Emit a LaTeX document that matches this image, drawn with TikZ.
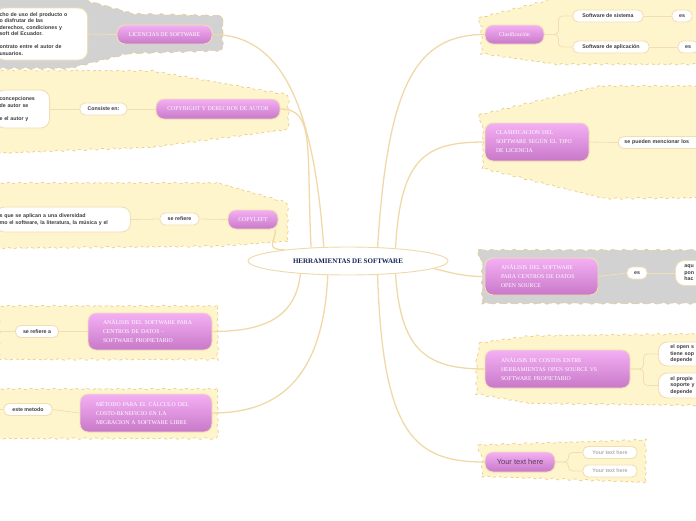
\documentclass[tikz,border=0pt]{standalone}
\usepackage{fontspec}
\setmainfont{Liberation Sans}
\newfontfamily\capsfont{Liberation Serif}
\usepackage{tikz}
\usetikzlibrary{shapes.geometric, decorations.pathmorphing}
\definecolor{branchtan}{RGB}{240,216,168}
\definecolor{boxtan}{RGB}{242,222,180}
\definecolor{padyellow}{RGB}{255,245,204}
\definecolor{padgrey}{RGB}{210,210,210}
\definecolor{padedge}{RGB}{232,204,140}
\definecolor{pinktop}{RGB}{244,176,244}
\definecolor{pinkbot}{RGB}{200,120,200}
\definecolor{rootblue}{RGB}{20,35,90}
\definecolor{leaftext}{RGB}{60,60,60}
\definecolor{hinttext}{RGB}{175,175,175}
\definecolor{yourtext}{RGB}{90,60,90}
\pgfdeclarelayer{pads}
\pgfdeclarelayer{links}
\pgfsetlayers{pads,links,main}

\begin{document}
\begin{tikzpicture}[
  x=1pt, y=-1pt,
  root/.style      = {ellipse, draw=branchtan, fill=white, line width=0.9pt, minimum width=200pt, minimum height=28pt, inner sep=0pt, font=\capsfont\bfseries\fontsize{7}{8}\selectfont, text=rootblue},
  topic/.style     = {rectangle, rounded corners=8pt, draw=boxtan, line width=0.9pt, top color=pinktop, bottom color=pinkbot, text=white, font=\capsfont\fontsize{5.8}{9}\selectfont, inner sep=0pt},
  topicwide/.style = {topic, align=left, inner ysep=4pt},
  leaf/.style      = {rectangle, rounded corners=5pt, draw=boxtan, line width=0.9pt, fill=white, text=leaftext, font=\bfseries\fontsize{5.3}{6.5}\selectfont, inner sep=0pt},
  note/.style      = {leaf, rounded corners=9pt, align=left, inner xsep=4pt},
  pad/.style       = {decorate, decoration={snake, segment length=11pt, amplitude=0.8pt}, draw=padedge, dashed, line width=0.7pt},
  link/.style      = {draw=branchtan, line width=1.3pt},
  twig/.style      = {draw=boxtan, line width=0.8pt},
]
\useasboundingbox (0,0) rectangle (696,520);
% Backdrops
\begin{pgfonlayer}{pads}
\draw[pad, fill=padgrey]   (-5,-3) -- (80,-1) -- (130,13) -- (219,15) -- (219,50) -- (130,53) -- (70,68) -- (-5,68) -- cycle;
\draw[pad, fill=padyellow] (-5,70) -- (150,71) -- (287,95) -- (287,125) -- (150,143) -- (-5,149) -- cycle;
\draw[pad, fill=padyellow] (-5,183) -- (215,183) -- (285,203) -- (285,243) -- (215,248) -- (-5,250) -- cycle;
\draw[pad, fill=padyellow] (-5,306) -- (218,306) -- (218,356) -- (-5,356) -- cycle;
\draw[pad, fill=padyellow] (-5,389) -- (218,389) -- (218,437) -- (-5,437) -- cycle;
\draw[pad, fill=padyellow] (479,18) -- (557,-2) -- (701,-2) -- (701,68) -- (557,68) -- (479,57) -- cycle;
\draw[pad, fill=padyellow] (479,115) -- (600,86) -- (701,86) -- (701,196) -- (600,197) -- (479,167) -- cycle;
\draw[pad, fill=padgrey]   (478,250) -- (701,250) -- (701,301) -- (478,301) -- cycle;
\draw[pad, fill=padyellow] (479,343) -- (530,336) -- (701,334) -- (701,404) -- (530,402) -- (479,393) -- cycle;
\draw[pad, fill=padyellow] (478,445) -- (643,440) -- (643,483) -- (478,477) -- cycle;
\end{pgfonlayer}
% Central idea
\node[root] (root) at (348,261) {HERRAMIENTAS DE SOFTWARE};
% Left branches
\node[topic, minimum width=95pt, minimum height=19pt] (lic) at (164.5,34.5) {LICENCIAS DE SOFTWARE};
\node[note, text width=84pt, minimum height=52pt, anchor=east] (licnote) at (88,34) {cho de uso del producto o\\o disfrutar de las\\derechos, condiciones y\\soft del Ecuador.\\[6.5pt]ontrato entre el autor de\\usuarios.};
\node[topic, minimum width=124pt, minimum height=20pt] (copy) at (218,109) {COPYRIGHT Y DERECHOS DE AUTOR};
\node[leaf, minimum width=47pt, minimum height=12pt] (consiste) at (103.5,109) {Consiste en:};
\node[note, text width=46pt, minimum height=38pt, anchor=east] (copynote) at (50,109) {concepciones\\de autor se\\[6.5pt]e el autor y};
\node[topic, minimum width=50pt, minimum height=19pt] (cleft) at (253,219.5) {COPYLEFT};
\node[leaf, minimum width=39pt, minimum height=12pt] (refiere) at (179.5,219) {se refiere};
\node[note, text width=127pt, minimum height=25pt, anchor=east] (cleftnote) at (131,219.5) {s que se aplican a una diversidad\\mo el software, la literatura, la música y el};
\node[topicwide, text width=94pt, inner xsep=15pt, minimum height=37pt] (anprop) at (150,331.5) {ANÁLISIS DEL SOFTWARE PARA\\CENTROS DE DATOS -\\SOFTWARE PROPIETARIO};
\node[leaf, minimum width=43pt, minimum height=12pt] (refierea) at (37,331.5) {se refiere a};
\node[topicwide, text width=100pt, inner xsep=16pt, minimum height=38pt] (metodo) at (146,413) {MÉTODO PARA EL CÁLCULO DEL\\COSTO-BENEFICIO EN LA\\MIGRACION A SOFTWARE LIBRE};
\node[leaf, minimum width=48pt, minimum height=12pt] (estemet) at (28,409.5) {este metodo};
\coordinate (offprop) at (-5,331.5);
\coordinate (offmet) at (-5,409.5);
% Right branches
\node[topic, minimum width=59pt, minimum height=19pt] (clasif) at (514.5,34.5) {Clasificación};
\node[leaf, minimum width=70pt, minimum height=12pt] (sistema) at (608,16) {Software de sistema};
\node[leaf, minimum width=20pt, minimum height=12pt] (essis) at (682,16) {es};
\node[leaf, minimum width=76pt, minimum height=12pt] (aplic) at (611,47) {Software de aplicación};
\node[leaf, minimum width=20pt, minimum height=12pt] (esapl) at (688,47) {es};
\node[topicwide, text width=82pt, inner xsep=11pt, minimum height=38pt] (tipo) at (537,142) {CLASIFICACION DEL\\SOFTWARE SEGÚN EL TIPO\\DE LICENCIA};
\node[leaf, text width=80pt, inner xsep=6pt, align=left, minimum height=12pt, anchor=west] (mencion) at (618,142.5) {se pueden mencionar los};
\node[topicwide, text width=81pt, inner xsep=16pt, minimum height=37pt] (anos) at (541.5,276.5) {ANÁLISIS DEL SOFTWARE\\PARA CENTROS DE DATOS\\OPEN SOURCE};
\node[leaf, minimum width=20pt, minimum height=12pt] (esos) at (637,273) {es};
\node[note, text width=30pt, inner xsep=9pt, minimum height=25pt, anchor=west] (osnote) at (675,273) {aqu\\pon\\hac};
\node[topicwide, text width=113pt, inner xsep=16pt, minimum height=38pt] (costos) at (557.5,369) {ANÁLISIS DE COSTOS ENTRE\\HERRAMIENTAS OPEN SOURCE VS\\SOFTWARE PROPIETARIO};
\node[note, text width=40pt, inner xsep=12pt, minimum height=24pt, anchor=west] (opennote) at (658,354) {el open s\\tiene sop\\depende};
\node[note, text width=40pt, inner xsep=12pt, minimum height=25pt, anchor=west] (propnote) at (658,385.5) {el propie\\soporte y\\depende};
\node[topic, minimum width=70pt, minimum height=20pt, text=yourtext, font=\fontsize{7.5}{8}\selectfont] (your) at (520,462) {Your text here};
\node[leaf, minimum width=54pt, minimum height=12pt, text=hinttext] (hint1) at (610,452.5) {Your text here};
\node[leaf, minimum width=54pt, minimum height=12pt, text=hinttext] (hint2) at (610,471) {Your text here};
% Main links
\begin{pgfonlayer}{links}
\draw[link] (root.150) .. controls +(-10,-140) and +(70,0) .. (lic.east);
\draw[link] (root.160) .. controls +(-5,-100) and +(35,0) .. (copy.east);
\draw[link] (root.170) .. controls +(-20,0) and +(0,12) .. ([xshift=-3pt]cleft.south east);
\draw[link] (root.195) .. controls +(-5,45) and +(50,0) .. (anprop.east);
\draw[link] (root.215) .. controls +(-5,110) and +(60,0) .. (metodo.east);
\draw[link] (root.25) .. controls +(10,-160) and +(-70,0) .. (clasif.west);
\draw[link] (root.15) .. controls +(5,-90) and +(-60,0) .. (tipo.west);
\draw[link] (root.-5) .. controls +(20,5) and +(-20,0) .. (anos.west);
\draw[link] (root.-15) .. controls +(5,75) and +(-60,0) .. (costos.west);
\draw[link] (root.-25) .. controls +(5,160) and +(-70,0) .. (your.west);
% Sub links
\draw[twig] (lic.west) -- (licnote.east);
\draw[twig] (copy.west) -- (consiste.east);
\draw[twig] (consiste.west) -- (copynote.east);
\draw[twig] (cleft.west) -- (refiere.east);
\draw[twig] (refiere.west) -- (cleftnote.east);
\draw[twig] (anprop.west) -- (refierea.east);
\draw[twig] (refierea.west) -- (offprop);
\draw[twig] (metodo.west) -- (estemet.east);
\draw[twig] (estemet.west) -- (offmet);
\draw[twig, rounded corners=4pt] (clasif.east) -- +(14,0) |- (sistema.west);
\draw[twig, rounded corners=4pt] (clasif.east) -- +(14,0) |- (aplic.west);
\draw[twig] (sistema.east) -- (essis.west);
\draw[twig] (aplic.east) -- (esapl.west);
\draw[twig] (tipo.east) -- (mencion.west);
\draw[twig] (anos.east) -- (esos.west);
\draw[twig] (esos.east) -- (osnote.west);
\draw[twig, rounded corners=4pt] (costos.east) -- +(13,0) |- (opennote.west);
\draw[twig, rounded corners=4pt] (costos.east) -- +(13,0) |- (propnote.west);
\draw[twig, rounded corners=4pt] (your.east) -- +(13,0) |- (hint1.west);
\draw[twig, rounded corners=4pt] (your.east) -- +(13,0) |- (hint2.west);
\end{pgfonlayer}
\end{tikzpicture}
\end{document}
